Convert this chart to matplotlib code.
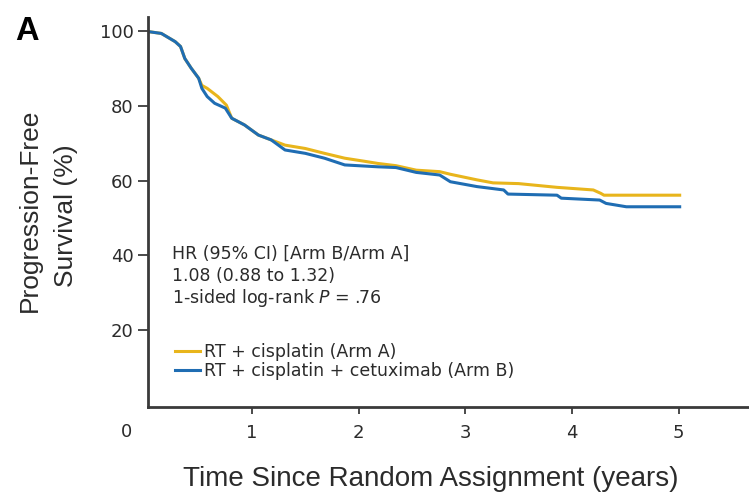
import matplotlib
matplotlib.use("Agg")
import matplotlib.pyplot as plt

# Kaplan-Meier progression-free survival
time_a = [0, 0.15, 0.28, 0.33, 0.37, 0.43, 0.50, 0.53, 0.58, 0.68, 0.76, 0.81,
          0.93, 1.06, 1.18, 1.31, 1.50, 1.68, 1.87, 2.05, 2.18, 2.35, 2.54, 2.76,
          2.86, 3.11, 3.26, 3.50, 3.86, 4.20, 4.27, 4.30, 5.01]
pfs_a = [100, 99.4, 97.2, 95.9, 92.7, 90.1, 87.4, 85.5, 84.7, 82.5, 80.2, 76.7,
         74.9, 72.2, 70.9, 69.5, 68.6, 67.3, 66.0, 65.2, 64.6, 64.0, 62.8, 62.4,
         61.7, 60.2, 59.4, 59.2, 58.2, 57.5, 56.6, 56.1, 56.1]

time_b = [0, 0.15, 0.28, 0.33, 0.37, 0.43, 0.50, 0.53, 0.58, 0.65, 0.75, 0.81,
          0.93, 1.06, 1.18, 1.31, 1.50, 1.68, 1.87, 2.18, 2.35, 2.54, 2.76, 2.86,
          3.11, 3.36, 3.40, 3.86, 3.90, 4.26, 4.32, 4.51, 5.01]
pfs_b = [100, 99.4, 97.2, 95.9, 92.7, 90.1, 87.4, 84.7, 82.5, 80.7, 79.4, 76.7,
         74.9, 72.2, 70.9, 68.2, 67.3, 66.0, 64.2, 63.7, 63.5, 62.2, 61.5, 59.7,
         58.4, 57.5, 56.4, 56.1, 55.3, 54.8, 53.9, 53.0, 53.0]

label_a = "RT + cisplatin (Arm A)"
label_b = "RT + cisplatin + cetuximab (Arm B)"
stats_lines = ["HR (95% CI) [Arm B/Arm A]", "1.08 (0.88 to 1.32)",
               "1-sided log-rank $P$ = .76"]
x_ticks = [1, 2, 3, 4, 5]
y_ticks = [20, 40, 60, 80, 100]

color_a = "#e8b51c"
color_b = "#1f6db3"
ink = "#2b2b2b"

plt.rcParams["font.family"] = ["DejaVu Sans"]
plt.rcParams["mathtext.fontset"] = "dejavusans"
label_font = ["Liberation Sans", "DejaVu Sans"]

W, H = 749, 493
fig = plt.figure(figsize=(W / 100, H / 100), dpi=100)
ax = fig.add_axes([148 / W, 86 / H, 601 / W, 390 / H])

ax.plot(time_a, pfs_a, color=color_a, lw=2.2, label=label_a, solid_joinstyle="round")
ax.plot(time_b, pfs_b, color=color_b, lw=2.2, label=label_b, solid_joinstyle="round")

ax.set_xlim(0.025, 5.66)
ax.set_ylim(-0.6, 103.8)
ax.set_xticks(x_ticks)
ax.set_yticks(y_ticks)

for side in ["top", "right"]:
    ax.spines[side].set_visible(False)
for side in ["left", "bottom"]:
    ax.spines[side].set_linewidth(2.0)
    ax.spines[side].set_color("#3a3a3a")

ax.tick_params(axis="y", direction="out", length=7, width=1.2, pad=3.5,
               labelsize=13, colors=ink)
ax.tick_params(axis="x", direction="out", length=5, width=1.2, pad=7,
               labelsize=13, colors=ink)

# the lone "0" sits left of the axis corner
fig.text(126 / W, 1 - 432 / H, "0", ha="center", va="center",
         fontsize=13, color=ink)

fig.text(431 / W, 1 - 486 / H, "Time Since Random Assignment (years)",
         family=label_font, fontsize=20, color=ink, ha="center", va="baseline")
fig.text(29.5 / W, 1 - 210 / H, "Progression-Free", family=label_font,
         fontsize=19, color=ink, rotation=90, ha="center", va="center")
fig.text(65.5 / W, 1 - 216 / H, "Survival (%)", family=label_font,
         fontsize=19, color=ink, rotation=90, ha="center", va="center")
fig.text(15 / W, 1 - 40 / H, "A", family=label_font, fontsize=23.5,
         fontweight="bold", color="black", ha="left", va="baseline")

for line, v in zip(stats_lines, [39.0, 33.1, 27.2]):
    ax.text(0.25, v, line, fontsize=12.5, color=ink, ha="left", va="baseline")

ax.legend(loc="upper left", bbox_to_anchor=(0.045, 0.163), frameon=False,
          fontsize=12.5, handlelength=1.45, handletextpad=0.2,
          labelspacing=0.02, borderaxespad=0, borderpad=0,
          labelcolor=ink)

fig.savefig("out.png", dpi=100)
